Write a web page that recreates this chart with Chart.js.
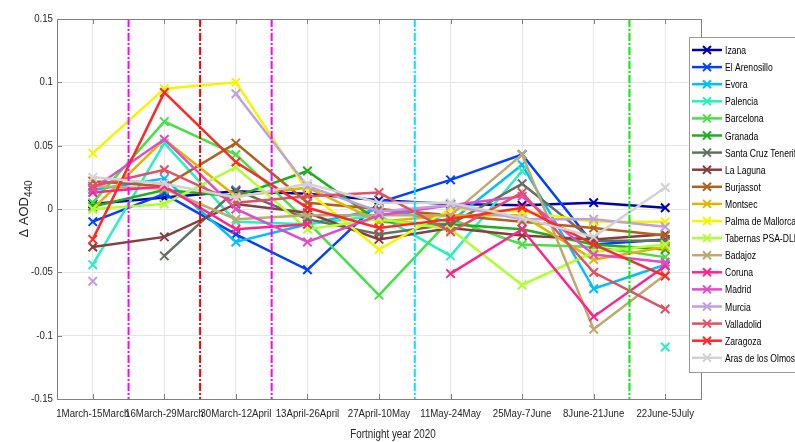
<!DOCTYPE html>
<html>
<head>
<meta charset="utf-8">
<script src="https://cdn.jsdelivr.net/npm/chart.js@4.4.1/dist/chart.umd.min.js"></script>
<style>
  html, body { margin: 0; padding: 0; background: #fff; }
  #wrap { width: 795px; height: 442px; }
</style>
</head>
<body>
<div id="wrap"><canvas id="myChart" width="795" height="442"></canvas></div>
<script>
// fortnights 2020
const fortnights = ['1March-15March', '16March-29March', '30March-12April', '13April-26April',
    '27April-10May', '11May-24May', '25May-7June', '8June-21June', '22June-5July'];
const yTicks = [-0.15, -0.1, -0.05, 0, 0.05, 0.1, 0.15];
const yTickLabels = ['-0.15', '-0.1', '-0.05', '0', '0.05', '0.1', '0.15'];

const stations = ['Izana', 'El Arenosillo', 'Evora', 'Palencia', 'Barcelona', 'Granada',
    'Santa Cruz Tenerife', 'La Laguna', 'Burjassot', 'Montsec', 'Palma de Mallorca',
    'Tabernas PSA-DLR', 'Badajoz', 'Coruna', 'Madrid', 'Murcia', 'Valladolid', 'Zaragoza',
    'Aras de los Olmos'];

// delta AOD 440 per station (null = no data)
const izana      = [0.004, 0.009, 0.014, 0.012, 0.007, 0.004, 0.003, 0.005, 0.001];
const arenosillo = [-0.010, 0.012, -0.020, -0.048, 0.005, 0.023, 0.043, -0.028, -0.024];
const evora      = [0.015, 0.024, -0.026, -0.012, 0.000, -0.010, 0.035, -0.063, -0.044];
const palencia   = [-0.044, 0.052, -0.010, -0.012, -0.005, -0.037, 0.030, null, -0.109];
const barcelona  = [0.005, 0.069, 0.043, -0.010, -0.068, -0.008, -0.028, -0.030, -0.038];
const granada    = [0.002, 0.015, 0.010, 0.030, -0.010, -0.012, -0.016, -0.028, -0.032];
const santaCruz  = [null, -0.037, 0.015, -0.008, -0.020, -0.012, 0.020, -0.025, -0.025];
const laLaguna   = [-0.030, -0.022, 0.004, -0.003, -0.024, -0.015, -0.021, -0.024, -0.020];
const burjassot  = [0.022, 0.018, 0.052, 0.005, 0.000, -0.005, -0.010, -0.015, -0.021];
const montsec    = [0.000, 0.055, 0.010, 0.017, -0.010, -0.005, -0.005, -0.040, -0.030];
const palma      = [0.044, 0.095, 0.100, 0.014, -0.032, 0.000, -0.002, -0.010, -0.010];
const tabernas   = [0.000, 0.004, 0.033, -0.016, -0.008, -0.016, -0.060, -0.034, -0.028];
const badajoz    = [0.018, 0.016, -0.008, -0.005, -0.005, -0.005, 0.043, -0.095, -0.052];
const coruna     = [0.013, 0.018, -0.016, -0.012, null, -0.051, -0.016, -0.085, -0.045];
const madrid     = [0.016, 0.055, 0.000, -0.026, -0.005, 0.003, 0.010, -0.036, -0.042];
const murcia     = [-0.057, null, 0.091, 0.018, -0.002, 0.003, -0.008, -0.008, -0.014];
const valladolid = [0.018, 0.031, 0.005, 0.010, 0.013, -0.018, 0.013, -0.050, -0.079];
const zaragoza   = [-0.024, 0.092, 0.037, 0.001, -0.015, -0.008, 0.001, -0.028, -0.053];
const aras       = [0.025, 0.020, 0.009, 0.020, 0.005, 0.005, -0.007, -0.022, 0.017];

const series = [izana, arenosillo, evora, palencia, barcelona, granada, santaCruz, laLaguna,
    burjassot, montsec, palma, tabernas, badajoz, coruna, madrid, murcia, valladolid, zaragoza, aras];

const colors = ['rgb(0,0,170)', 'rgb(0,64,255)', 'rgb(0,190,255)', 'rgb(40,240,190)',
    'rgb(70,225,70)', 'rgb(30,175,30)', 'rgb(100,112,100)', 'rgb(135,62,62)',
    'rgb(180,95,30)', 'rgb(225,180,0)', 'rgb(245,245,0)', 'rgb(175,255,50)',
    'rgb(190,170,110)', 'rgb(255,35,140)', 'rgb(225,75,200)', 'rgb(190,160,225)',
    'rgb(225,80,100)', 'rgb(255,40,40)', 'rgb(210,210,210)'];

// event lines between fortnights
const eventLines = [[0.5, '#ff00ff'], [1.5, '#ff0000'], [2.5, '#ff00ff'], [4.5, '#00e5ff'], [7.5, '#00ee00']];

// text squeezed horizontally (no narrow font installed)
function narrowText(ctx, txt, x, y, sx, align) {
    const w = ctx.measureText(txt).width * sx;
    let left = x;
    if (align === 'center') left = x - w / 2;
    if (align === 'right') left = x - w;
    ctx.save();
    ctx.translate(left, y);
    ctx.scale(sx, 1);
    ctx.textAlign = 'left';
    ctx.fillText(txt, 0, 0);
    ctx.restore();
}

const extras = {
    id: 'extras',
    afterDatasetsDraw(chart) {
        const ctx = chart.ctx;
        const a = chart.chartArea;
        const xs = chart.scales.x;
        const ys = chart.scales.y;
        ctx.save();
        // dashed event lines
        eventLines.forEach(([v, c]) => {
            const i = Math.floor(v);
            const px = (xs.getPixelForValue(i) + xs.getPixelForValue(i + 1)) / 2;
            ctx.strokeStyle = c;
            ctx.lineWidth = 2;
            ctx.setLineDash([8, 2, 2, 2]);
            ctx.beginPath();
            ctx.moveTo(px, a.top);
            ctx.lineTo(px, a.bottom);
            ctx.stroke();
        });
        ctx.setLineDash([]);
        // axes box
        ctx.strokeStyle = '#808080';
        ctx.lineWidth = 1;
        ctx.strokeRect(a.left + 0.5, a.top + 0.5, a.right - a.left, a.bottom - a.top);
        // small inward ticks
        ctx.beginPath();
        fortnights.forEach((f, i) => {
            const px = Math.round(xs.getPixelForValue(i)) + 0.5;
            ctx.moveTo(px, a.bottom); ctx.lineTo(px, a.bottom - 5);
            ctx.moveTo(px, a.top); ctx.lineTo(px, a.top + 5);
        });
        yTicks.forEach(v => {
            const py = Math.round(ys.getPixelForValue(v)) + 0.5;
            ctx.moveTo(a.left, py); ctx.lineTo(a.left + 5, py);
        });
        ctx.stroke();

        // tick labels
        ctx.fillStyle = '#262626';
        ctx.font = '11px Arial, sans-serif';
        ctx.textBaseline = 'middle';
        fortnights.forEach((f, i) => {
            narrowText(ctx, f, xs.getPixelForValue(i), 414, 0.88, 'center');
        });
        yTicks.forEach((v, i) => {
            narrowText(ctx, yTickLabels[i], 53, ys.getPixelForValue(v), 0.88, 'right');
        });
        ctx.font = '12px Arial, sans-serif';
        narrowText(ctx, 'Fortnight year 2020', 393, 435, 0.82, 'center');

        // y title with subscript
        ctx.translate(24, (a.top + a.bottom) / 2);
        ctx.rotate(-Math.PI / 2);
        ctx.textBaseline = 'alphabetic';
        ctx.font = '13px Arial, sans-serif';
        const main = '\u0394 AOD';
        const w1 = ctx.measureText(main).width;
        ctx.font = '10px Arial, sans-serif';
        const w2 = ctx.measureText('440').width;
        const x0 = -(w1 + w2) / 2;
        ctx.font = '13px Arial, sans-serif';
        ctx.fillText(main, x0, 4);
        ctx.font = '10px Arial, sans-serif';
        ctx.fillText('440', x0 + w1, 8);
        ctx.restore();

        // legend
        ctx.save();
        ctx.fillStyle = '#fff';
        ctx.fillRect(689, 37, 110, 335);
        ctx.strokeStyle = '#999';
        ctx.lineWidth = 1;
        ctx.strokeRect(689.5, 37.5, 110, 335);
        ctx.font = '11px Arial, sans-serif';
        ctx.textBaseline = 'middle';
        stations.forEach((name, i) => {
            const y = 50 + i * 17.1;
            ctx.strokeStyle = colors[i];
            ctx.lineWidth = 2.5;
            ctx.beginPath();
            ctx.moveTo(692, y);
            ctx.lineTo(722, y);
            ctx.stroke();
            ctx.lineWidth = 2;
            ctx.beginPath();
            ctx.moveTo(703, y - 4); ctx.lineTo(711, y + 4);
            ctx.moveTo(703, y + 4); ctx.lineTo(711, y - 4);
            ctx.stroke();
            ctx.fillStyle = '#000';
            narrowText(ctx, name, 725, y + 1, 0.78, 'left');
        });
        ctx.restore();
    }
};

const datasets = stations.map((name, i) => ({
    label: name,
    data: series[i],
    borderColor: colors[i],
    backgroundColor: colors[i],
    borderWidth: 2.5,
    pointStyle: 'crossRot',
    pointRadius: 6,
    pointBorderWidth: 2,
    pointHoverRadius: 6,
    spanGaps: false,
    tension: 0,
    order: stations.length - i
}));

const ctx = document.getElementById('myChart').getContext('2d');
const myChart = new Chart(ctx, {
    type: 'line',
    data: {
        labels: fortnights,
        datasets: datasets
    },
    options: {
        responsive: false,
        animation: false,
        layout: { padding: { top: 19, right: 94, left: 0, bottom: 0 } },
        plugins: {
            legend: { display: false },
            tooltip: { enabled: false }
        },
        scales: {
            x: {
                offset: true,
                grid: { offset: false, color: '#e6e6e6', drawTicks: false },
                border: { display: false },
                ticks: { display: false },
                afterFit(s) { s.height = 43; }
            },
            y: {
                min: -0.15,
                max: 0.15,
                grid: { color: '#e6e6e6', drawTicks: false },
                border: { display: false },
                ticks: { display: false, stepSize: 0.05 },
                afterFit(s) { s.width = 57; }
            }
        }
    },
    plugins: [extras]
});
</script>
</body>
</html>
